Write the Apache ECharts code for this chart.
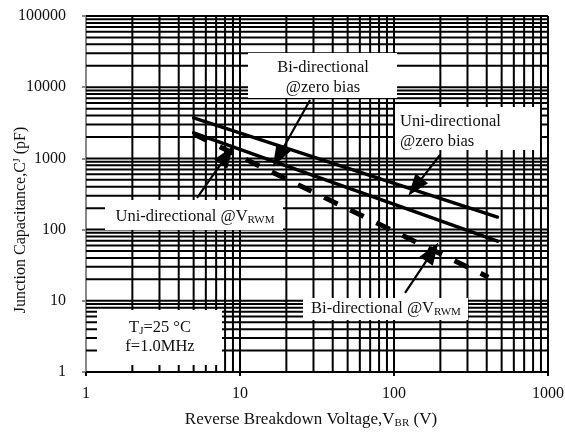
<!DOCTYPE html>
<html><head><meta charset="utf-8">
<script src="https://cdn.jsdelivr.net/npm/echarts@6/dist/echarts.min.js"></script>
<style>html,body{margin:0;padding:0;background:#fff}#c{width:565px;height:432px}</style>
</head><body><div id="c"></div>
<script>
// ---- data ----
const zeroBiasV = [5, 470];          // V_BR (V)
const uniZeroBias = [3700, 150];     // pF
const biZeroBias = [2280, 69];       // pF
const biVrwmV = [5, 410];            // V_BR (V)
const biVrwm = [2200, 21.5];         // pF
const xGridVals = [2,3,4,5,6,7,8,9,10,20,30,40,50,60,70,80,90,100,200,300,400,500,600,700,800,900,1000];
const yGridVals = [2,3,4,5,6,7,8,9,10,20,30,40,50,60,70,80,90,100,200,300,400,500,600,700,800,900,
  1000,2000,3000,4000,5000,6000,7000,8000,9000,10000,20000,30000,40000,50000,60000,70000,80000,90000,100000];
const xTickLabels = ['1','10','100','1000'];
const yTickLabels = ['1','10','100','1000','10000','100000'];
// annotation arrows (data coordinates): from label -> to curve
const arrowFrom = [[28.5, 6600], [199, 1116], [5.26, 278], [118, 12.9]];
const arrowTo   = [[17.7, 1045], [137, 395], [8.24, 1116], [177, 48.4]];

const FONT = "'Liberation Serif','Times New Roman',serif";
const chart = echarts.init(document.getElementById('c'), null, {renderer: 'canvas'});

function gridRender(vertical) {
  return function (params, api) {
    const cs = params.coordSys;
    const p = api.coord([api.value(0), api.value(1)]);
    const shape = vertical
      ? {x1: p[0], y1: cs.y, x2: p[0], y2: cs.y + cs.height}
      : {x1: cs.x, y1: p[1], x2: cs.x + cs.width, y2: p[1]};
    return {type: 'line', shape: shape, style: {stroke: '#000', lineWidth: 2}, silent: true};
  };
}

function txt(x, y, text, align, extra) {
  return Object.assign({
    type: 'text', x: x, y: y, z: 50,
    style: {
      text: text, fontFamily: FONT, fontSize: 16.5, fill: '#111',
      align: align || 'center', verticalAlign: 'middle',
      rich: { s: {fontFamily: FONT, fontSize: 11, fill: '#111', padding: [7, 0, 0, 0]},
              n: {fontFamily: FONT, fontSize: 16.5, fill: '#111'} }
    }
  }, extra || {});
}
function box(x, y, w, h) {
  return {type: 'rect', z: 40, shape: {x: x, y: y, width: w, height: h}, style: {fill: '#fff'}};
}

const option = {
  animation: false,
  backgroundColor: '#fff',
  grid: {left: 86, right: 17, top: 16, bottom: 60, containLabel: false, outerBoundsMode: 'none'},
  xAxis: {
    type: 'log', logBase: 10, min: 1, max: 1000,
    name: 'Reverse Breakdown Voltage,V{s|BR} (V)',
    nameLocation: 'middle', nameGap: 39, nameMoveOverlap: false,
    nameTextStyle: {fontFamily: FONT, fontSize: 17, color: '#111', padding: [0, 12, 0, 0],
      rich: {s: {fontFamily: FONT, fontSize: 11, color: '#111', padding: [7, 0, 0, 0]}}},
    axisLine: {show: true, lineStyle: {color: '#000', width: 2}},
    axisTick: {show: true, inside: false, length: 4, lineStyle: {color: '#000', width: 2}},
    splitLine: {show: false},
    axisLabel: {fontFamily: FONT, fontSize: 16, color: '#111', margin: 14,
      formatter: function (v) { return xTickLabels[Math.round(Math.log10(v))]; }}
  },
  yAxis: {
    type: 'log', logBase: 10, min: 1, max: 100000,
    name: 'Junction Capacitance,C{u|J} (pF)',
    nameLocation: 'middle', nameGap: 57, nameRotate: 90, nameMoveOverlap: false,
    nameTextStyle: {fontFamily: FONT, fontSize: 16, color: '#111', padding: [0, 52, 0, 0],
      rich: {u: {fontFamily: FONT, fontSize: 10, color: '#111', padding: [0, 0, 7, 0]}}},
    axisLine: {show: true, lineStyle: {color: '#888', width: 2}},
    axisTick: {show: true, inside: false, length: 4, lineStyle: {color: '#888', width: 2}},
    splitLine: {show: false},
    axisLabel: {fontFamily: FONT, fontSize: 16, color: '#111', margin: 20,
      formatter: function (v) { return yTickLabels[Math.round(Math.log10(v))]; }}
  },
  graphic: [
    box(248, 53, 149, 45),
    txt(323, 68, 'Bi-directional'),
    txt(323, 88, '@zero bias'),
    box(395, 107, 145, 43),
    txt(400, 122, 'Uni-directional', 'left'),
    txt(400, 142, '@zero bias', 'left'),
    box(105, 200, 178, 30),
    txt(195, 217, '{n|Uni-directional @V}{s|RWM}'),
    box(303, 298, 165, 22),
    txt(386, 309, '{n|Bi-directional @V}{s|RWM}'),
    box(97, 310, 125, 55),
    txt(160, 328, '{n|T}{s|J}{n|=25 °C}'),
    txt(160, 347, 'f=1.0MHz')
  ],
  series: [
    {type: 'custom', name: 'vgrid', z: 1, silent: true, clip: false,
     renderItem: gridRender(true), data: xGridVals.map(function (v) { return [v, 1]; })},
    {type: 'custom', name: 'hgrid', z: 1, silent: true, clip: false,
     renderItem: gridRender(false), data: yGridVals.map(function (v) { return [1, v]; })},
    {type: 'line', name: 'Uni-directional @zero bias', z: 60, symbol: 'none',
     lineStyle: {color: '#000', width: 3.5, cap: 'round'},
     data: zeroBiasV.map(function (v, i) { return [v, uniZeroBias[i]]; })},
    {type: 'line', name: 'Bi-directional @zero bias', z: 60, symbol: 'none',
     lineStyle: {color: '#000', width: 3.5, cap: 'round'},
     data: zeroBiasV.map(function (v, i) { return [v, biZeroBias[i]]; })},
    {type: 'line', name: 'Bi-directional @VRWM', z: 60, symbol: 'none',
     lineStyle: {color: '#000', width: 5, type: [15, 14], cap: 'butt'},
     data: biVrwmV.map(function (v, i) { return [v, biVrwm[i]]; })},
    {type: 'line', name: 'arrows', z: 60, symbol: 'none', data: [],
     markLine: {
       silent: true, animation: false, symbol: ['none', 'triangle'], symbolSize: [16, 22],
       label: {show: false},
       lineStyle: {color: '#000', width: 2.2, type: 'solid'},
       itemStyle: {color: '#000'},
       data: arrowFrom.map(function (f, i) { return [{coord: f}, {coord: arrowTo[i]}]; })
     }}
  ]
};
chart.setOption(option);
</script>
</body></html>
